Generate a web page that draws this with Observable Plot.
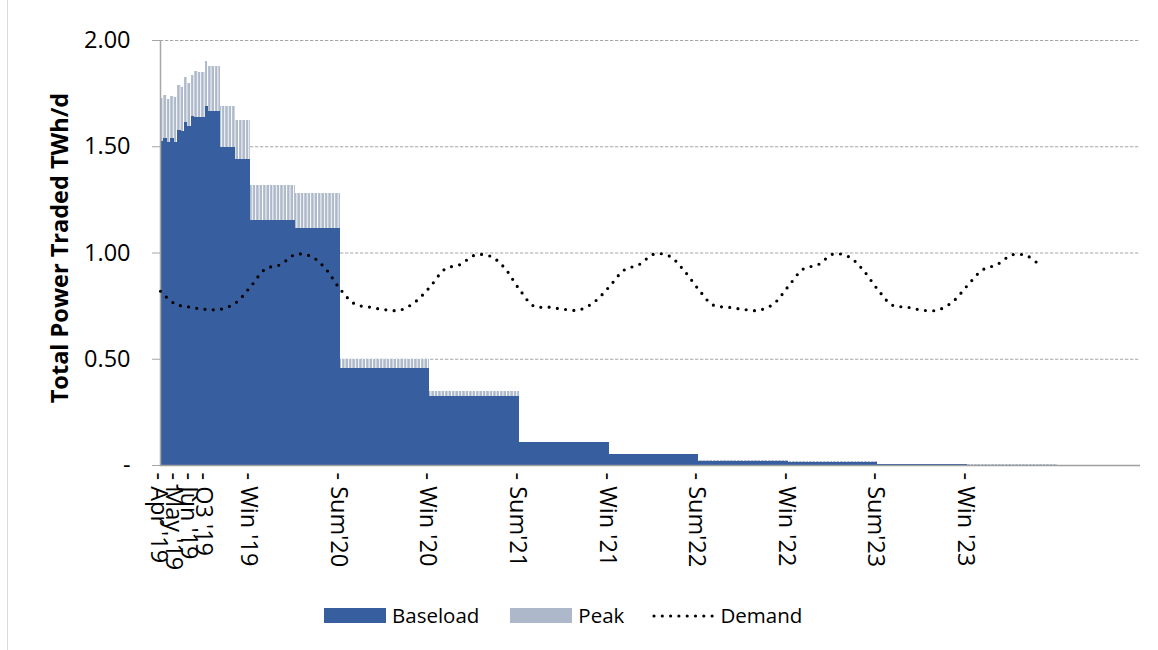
<!DOCTYPE html>
<html>
<head>
<meta charset="utf-8">
<script src="https://cdn.jsdelivr.net/npm/d3@7"></script>
<script src="https://cdn.jsdelivr.net/npm/@observablehq/plot@0.6"></script>
<style>
  html, body { margin: 0; padding: 0; background: #fff; }
  #wrap { position: relative; width: 1158px; height: 650px; overflow: hidden; background: #fff; }
  #frame { position: absolute; left: 7px; top: -2px; width: 1px; height: 660px; background: #d9d9d9; }
  #legend { position: absolute; left: 324px; top: 601px; display: flex; align-items: center;
            font-family: "Open Sans", sans-serif; font-size: 20.5px; color: #000; }
  #legend .sw { display: inline-block; width: 62px; height: 15px; }
  #legend .lab { margin-left: 6px; }
</style>
</head>
<body>
<div id="wrap">
  <div id="chart"></div>
  <div id="frame"></div>
  <div id="legend">
    <span class="sw" style="background:#375e9f"></span><span class="lab" style="margin-right:31px">Baseload</span>
    <span class="sw" style="background:#adb9ca"></span><span class="lab" style="margin-right:28px">Peak</span>
    <svg width="62" height="15"><line x1="2" y1="8" x2="62" y2="8" stroke="#000" stroke-width="3.2" stroke-linecap="round" stroke-dasharray="0 8.3"/></svg><span class="lab">Demand</span>
  </div>
</div>
<script>
// ---- Data ----
// Period boundaries (start of each traded delivery period; last entry is end of final period)
const periodBounds = [
  "2019-04-01","2019-04-08","2019-04-15","2019-04-22","2019-04-29","2019-05-06","2019-05-13",
  "2019-05-20","2019-05-27","2019-06-03","2019-06-10","2019-06-17","2019-06-24",
  "2019-07-01","2019-07-08","2019-08-01","2019-09-01","2019-10-01","2020-01-01",
  "2020-04-01","2020-10-01","2021-04-01","2021-10-01","2022-04-01","2022-10-01",
  "2023-04-01","2023-10-01","2024-04-01"
];
// Baseload traded (TWh/d) per period
const baseload = [
  1.525,1.537,1.518,1.537,1.518,1.578,1.572,
  1.616,1.595,1.642,1.636,1.636,1.636,
  1.688,1.665,1.495,1.439,1.153,1.113,
  0.455,0.325,0.106,0.050,0.020,0.016,
  0.005,0.002
];
// Peak traded on top of baseload (TWh/d) per period
const peak = [
  0.203,0.205,0.204,0.199,0.212,0.210,0.208,
  0.209,0.205,0.194,0.216,0.212,0.212,
  0.212,0.214,0.194,0.185,0.165,0.166,
  0.045,0.023,0.004,0.002,0.002,0.001,
  0.001,0.001
];
// Monthly demand (TWh/d), Apr 2019 .. Mar 2024
const demandMonths = d3.utcMonths(new Date(Date.UTC(2019,3,1)), new Date(Date.UTC(2024,3,1)));
const demand = [
  0.820,0.760,0.745,0.735,0.735,0.765,0.840,0.925,0.945,0.993,0.985,0.930,
  0.830,0.760,0.745,0.733,0.731,0.770,0.840,0.925,0.945,0.990,0.985,0.933,
  0.830,0.750,0.745,0.735,0.732,0.770,0.840,0.920,0.945,0.995,0.985,0.923,
  0.830,0.755,0.745,0.735,0.730,0.760,0.842,0.925,0.945,0.995,0.983,0.925,
  0.830,0.755,0.745,0.731,0.731,0.770,0.846,0.920,0.946,0.992,0.985,0.933
];
// X axis labels
const xLabelDates = ["2019-04-01","2019-05-01","2019-06-01","2019-07-01","2019-10-01","2020-04-01",
  "2020-10-01","2021-04-01","2021-10-01","2022-04-01","2022-10-01","2023-04-01","2023-10-01"];
const xLabels = ["- Apr '19","- May '19","- Jun '19","- Q3 '19","- Win '19","- Sum'20",
  "- Win '20","- Sum'21","- Win '21","- Sum'22","- Win '22","- Sum'23","- Win '23"];
const yTicks = [0, 0.5, 1, 1.5, 2];
const yTitle = "Total Power Traded TWh/d";
const xDomain = ["2019-04-01", "2024-09-18"];

// ---- Build tables ----
const parse = d3.utcParse("%Y-%m-%d");
const periods = baseload.map((b, i) => ({
  start: parse(periodBounds[i]), end: parse(periodBounds[i + 1]), base: b, top: b + peak[i]
}));
const demandData = demand.map((v, i) => ({date: demandMonths[i], value: v}));
const labelData = xLabels.map((t, i) => ({date: parse(xLabelDates[i]), text: t}));

const BLUE = "#375e9f";

const chart = Plot.plot({
  width: 1158,
  height: 590,
  marginLeft: 160,
  marginRight: 18,
  marginTop: 40,
  marginBottom: 125,
  style: {fontFamily: "'Open Sans', sans-serif", fontSize: "23.5px", color: "#000", background: "#fff", overflow: "visible"},
  x: {type: "utc", domain: xDomain.map(parse), axis: null},
  y: {domain: [0, 2], axis: null},
  marks: [
    Plot.gridY(yTicks.filter(d => d > 0), {stroke: "#a6a6a6", strokeOpacity: 1, strokeWidth: 1, strokeDasharray: "3.3,1.7"}),
    Plot.rect(periods, {x1: "start", x2: "end", y1: 0, y2: "base", fill: BLUE, shapeRendering: "crispEdges"}),
    Plot.rect(periods, {x1: "start", x2: "end", y1: "base", y2: "top", fill: "url(#peakStripes)", shapeRendering: "crispEdges"}),
    Plot.ruleY([0], {stroke: "#a0a0a0", strokeWidth: 1.5}),
    Plot.ruleX([parse(xDomain[0])], {stroke: "#a6a6a6", strokeWidth: 1.5}),
    Plot.axisY(yTicks, {
      tickFormat: d => d === 0 ? "-" : d.toFixed(2),
      tickSize: 8, tickPadding: 22, stroke: "#a6a6a6", label: null, fontSize: 23.5
    }),
    Plot.line(demandData, {x: "date", y: "value", curve: "catmull-rom", stroke: "#000",
      strokeWidth: 3.2, strokeDasharray: "0 8.3", strokeLinecap: "round"}),
    Plot.text(labelData, {x: "date", y: 0, text: "text", rotate: 90, textAnchor: "start",
      lineAnchor: "middle", dy: 7, dx: -2, fontSize: 23.5, fill: "#000"}),
    Plot.text([yTitle], {frameAnchor: "left", textAnchor: "middle", lineAnchor: "middle", rotate: -90,
      dx: -100, dy: -5, fontWeight: "bold", fontSize: 23.5, fill: "#000"})
  ]
});

// Peak fill: weekday-only peak -> thin white stripes at weekends
const xs = chart.scale("x");
const sat = xs.apply(parse("2019-04-06"));
const weekPx = xs.apply(parse("2019-04-13")) - sat;
const wkndPx = xs.apply(parse("2019-04-08")) - sat;
const ns = "http://www.w3.org/2000/svg";
const defs = document.createElementNS(ns, "defs");
const pat = document.createElementNS(ns, "pattern");
pat.setAttribute("id", "peakStripes");
pat.setAttribute("patternUnits", "userSpaceOnUse");
pat.setAttribute("x", sat);
pat.setAttribute("y", 0);
pat.setAttribute("width", weekPx);
pat.setAttribute("height", 10);
const r1 = document.createElementNS(ns, "rect");
r1.setAttribute("width", weekPx); r1.setAttribute("height", 10); r1.setAttribute("fill", "#adb9ca");
const r2 = document.createElementNS(ns, "rect");
r2.setAttribute("width", wkndPx); r2.setAttribute("height", 10); r2.setAttribute("fill", "#ffffff");
pat.appendChild(r1); pat.appendChild(r2);
defs.appendChild(pat);
chart.insertBefore(defs, chart.firstChild);

document.getElementById("chart").appendChild(chart);
</script>
</body>
</html>
